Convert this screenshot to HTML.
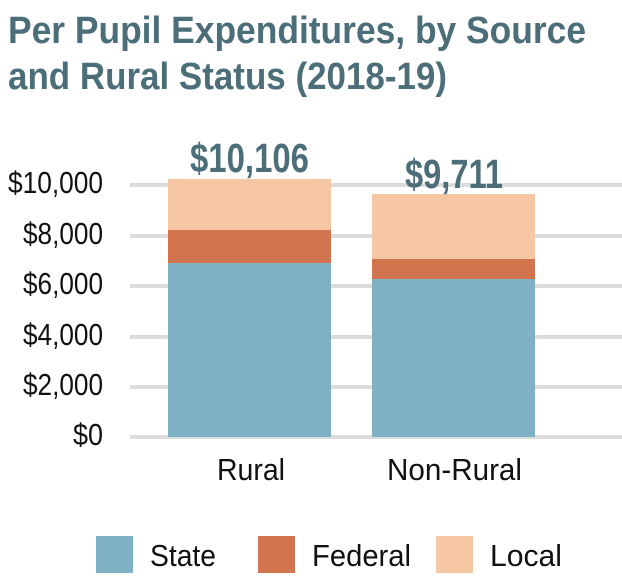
<!DOCTYPE html>
<html><head><meta charset="utf-8"><style>
html,body{margin:0;padding:0;background:#fff;width:622px;height:576px;overflow:hidden}
svg{display:block}
text{font-family:"Liberation Sans Narrow","Liberation Sans",sans-serif}
</style></head><body>
<svg width="622" height="576" viewBox="0 0 622 576" xmlns="http://www.w3.org/2000/svg">
<g fill="#4b6e79" font-weight="bold" font-size="38">
<text x="8" y="43" textLength="578" lengthAdjust="spacingAndGlyphs">Per Pupil Expenditures, by Source</text>
<text x="8" y="89" textLength="439" lengthAdjust="spacingAndGlyphs">and Rural Status (2018-19)</text>
</g>
<g stroke="#dcdcdc" stroke-width="4">
<line x1="130" y1="185" x2="622" y2="185"/>
<line x1="130" y1="236" x2="622" y2="236"/>
<line x1="130" y1="286" x2="622" y2="286"/>
<line x1="130" y1="337" x2="622" y2="337"/>
<line x1="130" y1="387" x2="622" y2="387"/>
<line x1="130" y1="437" x2="622" y2="437"/>
</g>
<g fill="#111" font-size="31" text-anchor="end">
<text x="103" y="193" textLength="95" lengthAdjust="spacingAndGlyphs">$10,000</text>
<text x="103" y="244" textLength="80" lengthAdjust="spacingAndGlyphs">$8,000</text>
<text x="103" y="294" textLength="80" lengthAdjust="spacingAndGlyphs">$6,000</text>
<text x="103" y="345" textLength="80" lengthAdjust="spacingAndGlyphs">$4,000</text>
<text x="103" y="395" textLength="80" lengthAdjust="spacingAndGlyphs">$2,000</text>
<text x="103" y="445" textLength="30" lengthAdjust="spacingAndGlyphs">$0</text>
</g>
<rect x="168" y="179" width="163" height="52" fill="#f7c7a4"/>
<rect x="168" y="230" width="163" height="33" fill="#d2754e"/>
<rect x="168" y="263" width="163" height="174" fill="#7fb1c5"/>
<rect x="372" y="194" width="163" height="65" fill="#f7c7a4"/>
<rect x="372" y="259" width="163" height="20" fill="#d2754e"/>
<rect x="372" y="279" width="163" height="158" fill="#7fb1c5"/>
<g fill="#4b6e79" font-weight="bold" font-size="41">
<text x="190" y="172" textLength="119" lengthAdjust="spacingAndGlyphs">$10,106</text>
<text x="405" y="188" textLength="98" lengthAdjust="spacingAndGlyphs">$9,711</text>
</g>
<g fill="#111" font-size="31">
<text x="217" y="480" textLength="68" lengthAdjust="spacingAndGlyphs">Rural</text>
<text x="387" y="480" textLength="135" lengthAdjust="spacingAndGlyphs">Non-Rural</text>
<text x="150" y="566" textLength="66" lengthAdjust="spacingAndGlyphs">State</text>
<text x="312" y="566" textLength="99" lengthAdjust="spacingAndGlyphs">Federal</text>
<text x="490" y="566" textLength="72" lengthAdjust="spacingAndGlyphs">Local</text>
</g>
<rect x="96" y="536" width="37" height="37" fill="#7fb1c5"/>
<rect x="258" y="536" width="37" height="37" fill="#d2754e"/>
<rect x="436" y="536" width="37" height="37" fill="#f7c7a4"/>
</svg>
</body></html>
